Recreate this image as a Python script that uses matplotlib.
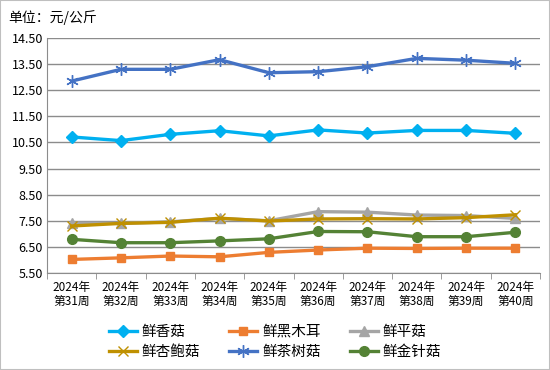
import matplotlib
matplotlib.use('Agg')
import matplotlib.pyplot as plt
from matplotlib.patches import Rectangle
import numpy as np

plt.rcParams['font.family'] = ['Noto Sans CJK SC', 'DejaVu Sans']

weeks = ['2024年\n第31周', '2024年\n第32周', '2024年\n第33周', '2024年\n第34周', '2024年\n第35周',
         '2024年\n第36周', '2024年\n第37周', '2024年\n第38周', '2024年\n第39周', '2024年\n第40周']

xianggu = [10.71, 10.57, 10.81, 10.95, 10.75, 10.98, 10.86, 10.96, 10.96, 10.85]
heimuer = [6.02, 6.08, 6.15, 6.12, 6.29, 6.38, 6.45, 6.44, 6.45, 6.45]
pinggu = [7.41, 7.40, 7.46, 7.59, 7.50, 7.85, 7.83, 7.72, 7.70, 7.59]
xingbaogu = [7.30, 7.40, 7.44, 7.60, 7.49, 7.57, 7.58, 7.57, 7.62, 7.73]
chashugu = [12.85, 13.30, 13.30, 13.67, 13.17, 13.21, 13.40, 13.72, 13.65, 13.53]
jinzhengu = [6.79, 6.66, 6.66, 6.73, 6.81, 7.09, 7.08, 6.89, 6.89, 7.06]

series = [
    ('鲜香菇', xianggu, '#00B0F0', 'D', 6),
    ('鲜黑木耳', heimuer, '#ED7D31', 's', 6),
    ('鲜平菇', pinggu, '#A5A5A5', '^', 7),
    ('鲜杏鲍菇', xingbaogu, '#BF9000', 'x', 7),
    ('鲜茶树菇', chashugu, '#4472C4', (6, 2, 0), 9),
    ('鲜金针菇', jinzhengu, '#548235', 'o', 7),
]

fig = plt.figure(figsize=(5.5, 3.7), dpi=100)
fig.patches.append(Rectangle((0, 0), 1, 1, transform=fig.transFigure, fill=False,
                             edgecolor='#BFBFBF', linewidth=1.5))
ax = fig.add_axes([47 / 550, 97 / 370, 493 / 550, 235 / 370])

x = np.arange(len(weeks))
handles = []
for name, vals, color, marker, ms in series:
    if marker == 'x' or isinstance(marker, tuple):
        h, = ax.plot(x, vals, color=color, lw=2.4, marker=marker, ms=ms, mew=1.0, label=name)
    else:
        h, = ax.plot(x, vals, color=color, lw=2.4, marker=marker, ms=ms, label=name)
    handles.append(h)

ax.set_xlim(-0.5, 9.5)
ax.set_ylim(5.5, 14.5)
yt = np.arange(5.5, 14.6, 1.0)
ax.set_yticks(yt)
ax.set_yticklabels(['%.2f' % v for v in yt], fontsize=9)
ax.yaxis.grid(True, color='#8C8C8C', lw=1)
ax.set_axisbelow(True)
ax.set_xticks(x)
ax.set_xticklabels(weeks, fontsize=8.5, linespacing=1.05)
ax.set_xticks(np.arange(-0.5, 10, 1), minor=True)
ax.tick_params(axis='x', which='major', length=0, pad=6)
ax.tick_params(axis='x', which='minor', length=4, color='#8C8C8C')
ax.tick_params(axis='y', length=0, pad=3)
for s in ['top', 'right']:
    ax.spines[s].set_visible(False)
ax.spines['left'].set_color('#8C8C8C')
ax.spines['bottom'].set_color('#8C8C8C')

fig.text(8 / 550, 1 - 18 / 370, '单位：元/公斤', fontsize=10, va='center', ha='left')

# legend filled row by row like the original
order = [0, 3, 1, 4, 2, 5]
fig.legend([handles[i] for i in order], [series[i][0] for i in order],
           loc='center', bbox_to_anchor=(0.5, 1 - 342 / 370), ncol=3, frameon=False,
           fontsize=10.5, handlelength=1.9, columnspacing=2.0, labelspacing=0.45,
           handletextpad=0.35)

fig.savefig('out.png', dpi=100)
